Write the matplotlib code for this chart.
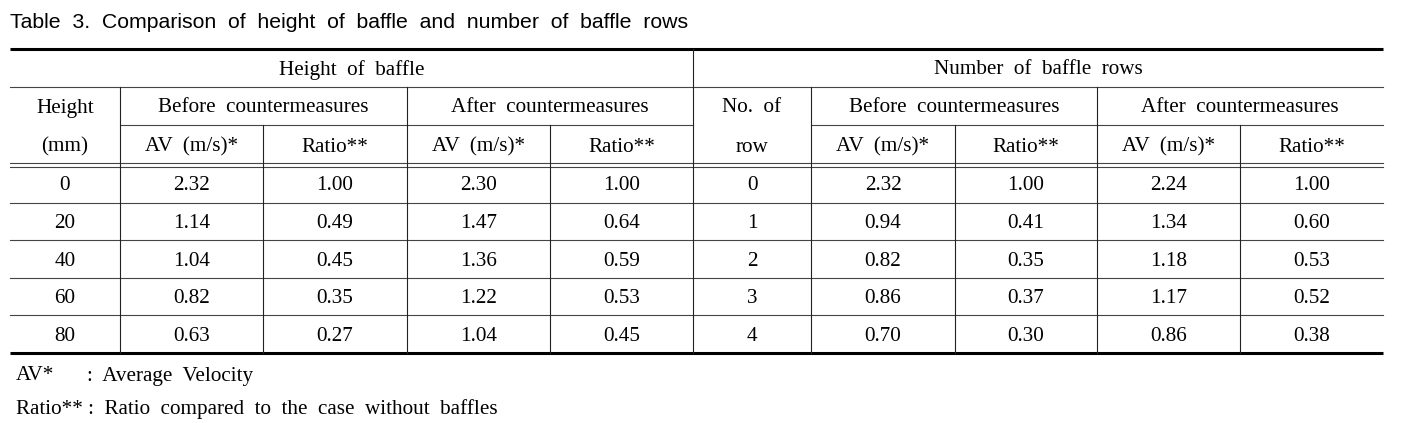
import matplotlib
matplotlib.use('Agg')
import matplotlib.pyplot as plt

title = 'Table  3.  Comparison  of  height  of  baffle  and  number  of  baffle  rows'
group_titles = ['Height  of  baffle', 'Number  of  baffle  rows']
sub_titles = ['Before  countermeasures', 'After  countermeasures']
col_titles = ['AV  (m/s)*', 'Ratio**']

heights = ['0', '20', '40', '60', '80']
h_before_av = [2.32, 1.14, 1.04, 0.82, 0.63]
h_before_ratio = [1.00, 0.49, 0.45, 0.35, 0.27]
h_after_av = [2.30, 1.47, 1.36, 1.22, 1.04]
h_after_ratio = [1.00, 0.64, 0.59, 0.53, 0.45]

rows = ['0', '1', '2', '3', '4']
r_before_av = [2.32, 0.94, 0.82, 0.86, 0.70]
r_before_ratio = [1.00, 0.41, 0.35, 0.37, 0.30]
r_after_av = [2.24, 1.34, 1.18, 1.17, 0.86]
r_after_ratio = [1.00, 0.60, 0.53, 0.52, 0.38]

notes = [('AV*', ':  Average  Velocity'),
         ('Ratio**', ':  Ratio  compared  to  the  case  without  baffles')]

W, H = 1403, 423
fig = plt.figure(figsize=(W / 100, H / 100), dpi=100)
ax = fig.add_axes([0, 0, 1, 1])
ax.set_xlim(0, W)
ax.set_ylim(H, 0)
ax.axis('off')

serif = 'Liberation Serif'
fs = 15.2
dy = 2  # nudge text down a little

# column edges (pixels)
xs = [10, 120, 263, 407, 550, 693, 811, 955, 1097, 1240, 1383]
y_top, y_h1, y_h2, y_dbl = 49, 87, 125, 165
y_bot = 353
row_h = (y_bot - y_dbl) / 5

ax.text(10, 22, title, family='Liberation Sans', fontsize=15.3, va='center', ha='left')

lc = '#444444'
lw = 0.8
# horizontal rules
ax.plot([xs[0], xs[-1]], [y_top, y_top], color='black', lw=2.2, solid_capstyle='butt')
ax.plot([xs[0], xs[-1]], [y_bot, y_bot], color='black', lw=2.2, solid_capstyle='butt')
ax.plot([xs[0], xs[-1]], [y_h1, y_h1], color=lc, lw=lw)
ax.plot([xs[1], xs[5]], [y_h2, y_h2], color=lc, lw=lw)
ax.plot([xs[6], xs[10]], [y_h2, y_h2], color=lc, lw=lw)
ax.plot([xs[0], xs[-1]], [y_dbl - 2, y_dbl - 2], color=lc, lw=lw)
ax.plot([xs[0], xs[-1]], [y_dbl + 2, y_dbl + 2], color=lc, lw=lw)
for i in range(1, 5):
    y = y_dbl + i * row_h
    ax.plot([xs[0], xs[-1]], [y, y], color=lc, lw=lw)

# vertical rules
ax.plot([xs[5], xs[5]], [y_top, y_bot], color='#222222', lw=lw)
for i in [1, 3, 6, 8]:
    ax.plot([xs[i], xs[i]], [y_h1, y_bot], color='#222222', lw=lw)
for i in [2, 4, 7, 9]:
    ax.plot([xs[i], xs[i]], [y_h2, y_bot], color='#222222', lw=lw)

def cx(a, b):
    return (xs[a] + xs[b]) / 2

kw = dict(family=serif, fontsize=fs, ha='center', va='center')
ym1 = (y_top + y_h1) / 2 + dy
ym2 = (y_h1 + y_h2) / 2 + dy
ym3 = (y_h2 + y_dbl) / 2 + dy
ax.text(cx(0, 5), ym1, group_titles[0], **kw)
ax.text(cx(5, 10), ym1, group_titles[1], **kw)
ax.text(cx(0, 1), ym2, 'Height', **kw)
ax.text(cx(0, 1), ym3, '(mm)', **kw)
ax.text(cx(5, 6), ym2, 'No.  of', **kw)
ax.text(cx(5, 6), ym3, 'row', **kw)
for a, b in [(1, 3), (3, 5), (6, 8), (8, 10)]:
    ax.text(cx(a, b), ym2, sub_titles[0] if a in (1, 6) else sub_titles[1], **kw)
for a in [1, 3, 6, 8]:
    ax.text(cx(a, a + 1), ym3, col_titles[0], **kw)
    ax.text(cx(a + 1, a + 2), ym3, col_titles[1], **kw)

cols = [heights, h_before_av, h_before_ratio, h_after_av, h_after_ratio,
        rows, r_before_av, r_before_ratio, r_after_av, r_after_ratio]
for j, col in enumerate(cols):
    for i, v in enumerate(col):
        s = v if isinstance(v, str) else f'{v:.2f}'
        y = y_dbl + (i + 0.5) * row_h + dy
        ax.text(cx(j, j + 1), y, s, **kw)

ax.text(16, 376, notes[0][0], family=serif, fontsize=fs, va='center', ha='left')
ax.text(87, 376, notes[0][1], family=serif, fontsize=fs, va='center', ha='left')
ax.text(16, 409, notes[1][0] + ' ' + notes[1][1], family=serif, fontsize=fs, va='center', ha='left')

fig.savefig('out.png', dpi=100)
